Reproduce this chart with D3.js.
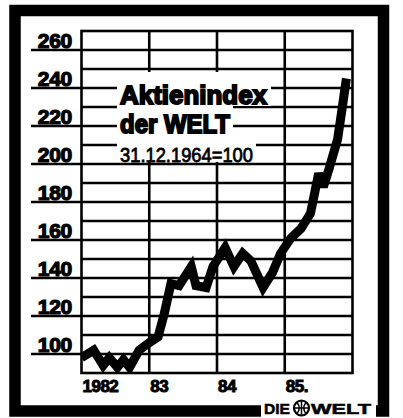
<!DOCTYPE html>
<html>
<head>
<meta charset="utf-8">
<script src="https://cdn.jsdelivr.net/npm/d3@7"></script>
<style>
  html, body { margin: 0; padding: 0; background: #fff; }
  svg { display: block; }
  text { font-family: "Liberation Sans", Arial, Helvetica, sans-serif; }
</style>
</head>
<body>
<script>
// ---- data ----
const dates = [1982.00, 1982.18, 1982.32, 1982.41, 1982.53, 1982.62, 1982.71, 1982.85,
               1983.00, 1983.13, 1983.22, 1983.32, 1983.44, 1983.62, 1983.69, 1983.84, 1983.94,
               1984.12, 1984.25, 1984.38, 1984.50, 1984.68, 1984.82, 1984.94,
               1985.09, 1985.24, 1985.38, 1985.50, 1985.57, 1985.65, 1985.78, 1985.85, 1985.91];
const values = [98, 102, 94, 98, 93, 97, 93, 102,
                106, 109, 121, 137, 136, 146, 136, 135, 146,
                156, 146, 153, 149, 135, 143, 153,
                161, 166, 174, 195, 188, 197, 213, 230, 245];
const yearTicks = [1982, 1983, 1984, 1985];
const yearLabels = ["1982", "83", "84", "85."];
const yTicks = [100, 120, 140, 160, 180, 200, 220, 240, 260];
const yTickLabels = ["100", "120", "140", "160", "180", "200", "220", "240", "260"];
const minorTicks = [110, 130, 150, 170, 190, 210, 230, 250];
const titleLines = ["Aktienindex", "der WELT", "31.12.1964=100"];
const brand = ["DIE", "WELT"];

// ---- drawing ----
const W = 403, H = 418;
const svg = d3.select("body").append("svg").attr("width", W).attr("height", H);
svg.append("rect").attr("width", W).attr("height", H).attr("fill", "#fff");

const x = d3.scaleLinear().domain([1982, 1986]).range([81.5, 352.5]);
const y = d3.scaleLinear().domain([90, 270]).range([373, 31]);

// outer thick frame
svg.append("rect").attr("x", 15).attr("y", 10.5).attr("width", 368.5).attr("height", 400.5)
  .attr("fill", "none").attr("stroke", "#000").attr("stroke-width", 11.5);

const grid = svg.append("g").attr("stroke", "#000").attr("stroke-width", 2.6);
grid.selectAll("line.minor").data(minorTicks).join("line")
  .attr("x1", x(1982)).attr("x2", x(1986))
  .attr("y1", d => y(d)).attr("y2", d => y(d));
grid.selectAll("line.major").data(yTicks).join("line")
  .attr("x1", 31).attr("x2", x(1986))
  .attr("y1", d => y(d)).attr("y2", d => y(d));
grid.selectAll("line.v").data(yearTicks.slice(1)).join("line")
  .attr("x1", d => x(d)).attr("x2", d => x(d))
  .attr("y1", y(270)).attr("y2", y(90));
grid.append("rect").attr("x", x(1982)).attr("y", y(270))
  .attr("width", x(1986) - x(1982)).attr("height", y(90) - y(270)).attr("fill", "none");

// title block with white knock-out behind it
const titleG = svg.append("g");
[[117, 72, 154, 34], [117, 106, 116, 30], [117, 136, 139, 26]].forEach(b => {
  titleG.append("rect").attr("x", b[0]).attr("y", b[1]).attr("width", b[2]).attr("height", b[3]).attr("fill", "#fff");
});
const titleSpec = [
  {t: titleLines[0], y: 103.5, size: 26, len: 147, sw: 1.9},
  {t: titleLines[1], y: 133, size: 26, len: 110, sw: 1.9},
  {t: titleLines[2], y: 162, size: 21, len: 133, sw: 0.8, normal: true}
];
titleSpec.forEach(s => {
  titleG.append("text").attr("x", 120).attr("y", s.y).text(s.t)
    .attr("font-size", s.size).attr("font-weight", s.normal ? "normal" : "bold")
    .attr("textLength", s.len).attr("lengthAdjust", "spacingAndGlyphs")
    .attr("fill", "#000").attr("stroke", "#000").attr("stroke-width", s.sw);
});

// data line
svg.append("clipPath").attr("id", "plotclip").append("rect")
  .attr("x", x(1982)).attr("y", y(270)).attr("width", x(1986) - x(1982)).attr("height", y(90) - y(270));
const line = d3.line().x((d, i) => x(dates[i])).y(d => y(d));
svg.append("path").datum(values).attr("d", line)
  .attr("clip-path", "url(#plotclip)")
  .attr("fill", "none").attr("stroke", "#000").attr("stroke-width", 9)
  .attr("stroke-linejoin", "miter").attr("stroke-miterlimit", 3);

// y labels
svg.selectAll("text.ylab").data(yTicks).join("text").attr("class", "ylab")
  .attr("x", 72).attr("y", d => y(d) - 2.5).attr("text-anchor", "end")
  .attr("font-size", 21).attr("font-weight", "bold").attr("letter-spacing", -0.3)
  .attr("fill", "#000").attr("stroke", "#000").attr("stroke-width", 1.2)
  .text((d, i) => yTickLabels[i]);

// x labels
svg.selectAll("text.xlab").data(yearTicks).join("text").attr("class", "xlab")
  .attr("x", d => x(d) + 1).attr("y", 392)
  .attr("font-size", 17).attr("font-weight", "bold").attr("letter-spacing", -0.5)
  .attr("fill", "#000").attr("stroke", "#000").attr("stroke-width", 1)
  .text((d, i) => yearLabels[i]);

// DIE WELT signature
const logo = svg.append("g");
logo.append("rect").attr("x", 261).attr("y", 400).attr("width", 115).attr("height", 18).attr("fill", "#fff");
logo.append("text").attr("x", 264).attr("y", 414).text(brand[0])
  .attr("font-size", 14).attr("font-weight", "bold").attr("textLength", 26).attr("lengthAdjust", "spacingAndGlyphs")
  .attr("fill", "#000").attr("stroke", "#000").attr("stroke-width", 0.5);
logo.append("circle").attr("cx", 301.5).attr("cy", 408).attr("r", 7.5)
  .attr("fill", "#fff").attr("stroke", "#000").attr("stroke-width", 2.2);
logo.append("path").attr("d", "M301.5,400.5 V415.5 M294,408 H309 M297,402.5 Q301.5,408 297,413.5 M306,402.5 Q301.5,408 306,413.5")
  .attr("fill", "none").attr("stroke", "#000").attr("stroke-width", 1.5);
logo.append("text").attr("x", 311).attr("y", 414).text(brand[1])
  .attr("font-size", 14).attr("font-weight", "bold").attr("textLength", 60).attr("lengthAdjust", "spacingAndGlyphs")
  .attr("fill", "#000").attr("stroke", "#000").attr("stroke-width", 0.5);
</script>
</body>
</html>
